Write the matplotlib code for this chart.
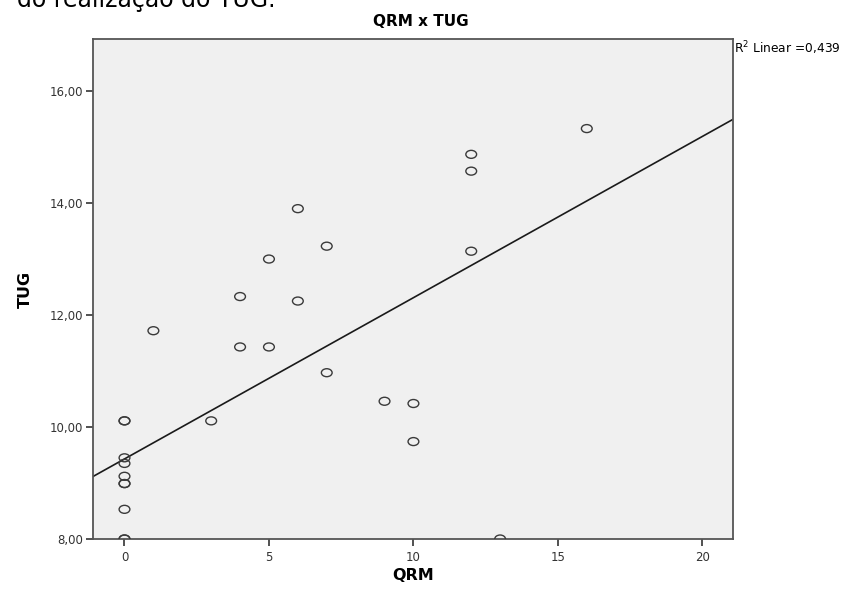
import numpy as np
import matplotlib.pyplot as plt
from matplotlib.path import Path
from matplotlib.ticker import FuncFormatter

# QRM (x) and TUG (y) values
qrm = [0, 0, 0, 0, 0, 0, 0, 0, 0, 0,
       1, 3, 4, 4, 5, 5, 6, 6, 7, 7,
       9, 10, 10, 12, 12, 12, 13, 16]
tug = [10.11, 10.11, 9.45, 9.35, 9.12, 8.99, 8.99, 8.53, 8.00, 8.00,
       11.72, 10.11, 12.33, 11.43, 13.00, 11.43, 13.90, 12.25, 13.23, 10.97,
       10.46, 10.42, 9.74, 14.87, 14.57, 13.14, 8.00, 15.33]

# fit line as drawn in the reference (intercept, slope)
fit_intercept = 9.43
fit_slope = 0.288

x_ticks = [0, 5, 10, 15, 20]
y_ticks = [8, 10, 12, 14, 16]
r2_label = 'R$^2$ Linear =0,439'


def comma_fmt(v, pos):
    return ('%.2f' % v).replace('.', ',')


if __name__ == '__main__':
    plt.rcParams['font.family'] = ['DejaVu Sans']
    plt.rcParams['mathtext.fontset'] = 'dejavusans'

    x = np.array(qrm, dtype=float)
    y = np.array(tug, dtype=float)

    # the source image is stretched sideways, so the circles are a bit wide
    circ = Path.unit_circle()
    oval = Path(circ.vertices * np.array([1.35, 1.0]), circ.codes)

    fig = plt.figure(figsize=(8.47, 5.9), dpi=100)
    ax = fig.add_axes([93 / 847, 1 - 539 / 590, 640 / 847, 500 / 590])
    ax.set_facecolor('#f0f0f0')

    ax.scatter(x, y, s=60, marker=oval, facecolors='none', edgecolors='#3a3a3a',
               linewidths=1.0, zorder=3)

    xlim = (-1.09, 21.06)
    ylim = (8.0, 16.93)
    xs = np.array(xlim)
    ax.plot(xs, fit_intercept + fit_slope * xs, color='#1a1a1a', lw=1.2, zorder=2)
    ax.set_xlim(xlim)
    ax.set_ylim(ylim)

    ax.set_xticks(x_ticks)
    ax.set_yticks(y_ticks)
    ax.yaxis.set_major_formatter(FuncFormatter(comma_fmt))
    ax.tick_params(axis='both', labelsize=8.5, colors='#333333', length=5, width=1.2, direction='out')
    ax.tick_params(axis='y', pad=2)
    for sp in ax.spines.values():
        sp.set_color('#555555')
        sp.set_linewidth(1.3)

    ax.set_xlabel('QRM', fontsize=11.5, fontweight='bold', labelpad=3)
    ax.set_ylabel('TUG', fontsize=11.5, fontweight='bold', labelpad=12)

    fig.text(421 / 847, 1 - 21 / 590, 'QRM x TUG', ha='center', va='center',
             fontsize=11, fontweight='bold')
    fig.text(734 / 847, 1 - 48 / 590, r2_label, ha='left', va='center', fontsize=8.8)
    # caption fragment cut off at the top of the image
    fig.text(17 / 847, 1 - 7 / 590, 'do realização do TUG.', ha='left', va='baseline',
             fontsize=17)

    fig.savefig('out.png', dpi=100)
